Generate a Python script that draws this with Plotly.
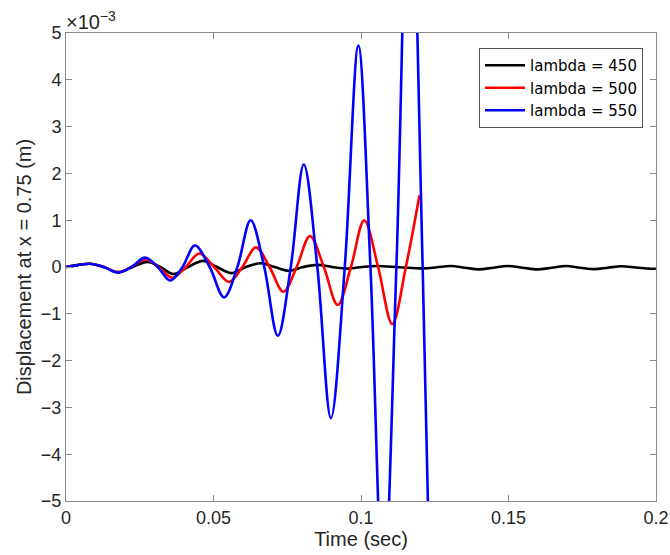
import plotly.graph_objects as go

SCALE = 1e-3  # displacement values below are in units of 1e-3 m

# lambda = 450 (black)
t_450 = [0, 0.004, 0.0081, 0.0128, 0.0177, 0.0226, 0.0276, 0.0320, 0.0364, 0.0414,
         0.0465, 0.0512, 0.0560, 0.0610, 0.0660, 0.0707, 0.0755, 0.0804, 0.0853, 0.0902,
         0.0952, 0.1003, 0.1055, 0.1130, 0.1213, 0.1258, 0.1304, 0.1352, 0.1400, 0.1448,
         0.1497, 0.1548, 0.1599, 0.1647, 0.1695, 0.1743, 0.1792, 0.1837, 0.1882, 0.1932,
         0.1983, 0.2000]
d_450 = [0, 0.04, 0.07, 0, -0.11, 0, 0.11, 0, -0.15, 0,
         0.13, 0, -0.13, 0, 0.08, 0, -0.08, 0, 0.045, 0,
         -0.035, 0, 0.02, -0.005, -0.03, -0.005, 0.02, -0.015, -0.05, -0.015,
         0.02, -0.015, -0.05, -0.015, 0.02, -0.015, -0.045, -0.015, 0.015, -0.01,
         -0.035, -0.03]

# lambda = 500 (red)
t_500 = [0, 0.004, 0.0081, 0.0128, 0.0177, 0.0222, 0.0268, 0.0314, 0.0360, 0.0406,
         0.0452, 0.0502, 0.0553, 0.0598, 0.0644, 0.0690, 0.0737, 0.0782, 0.0827, 0.0874,
         0.0921, 0.0966, 0.1011, 0.1058, 0.1106, 0.1152, 0.1198]
d_500 = [0, 0.04, 0.07, 0, -0.11, 0, 0.16, 0, -0.23, 0,
         0.29, 0, -0.32, 0, 0.42, 0, -0.53, 0, 0.66, 0,
         -0.81, 0, 1.0, 0, -1.22, 0, 1.53]

# lambda = 550 (blue)
t_550 = [0, 0.004, 0.0081, 0.0128, 0.0177, 0.0222, 0.0268, 0.0311, 0.0353, 0.0395,
         0.0437, 0.0487, 0.0536, 0.0581, 0.0626, 0.0672, 0.0718, 0.0762, 0.0806, 0.0852,
         0.0898, 0.0945, 0.0991, 0.1032, 0.1076, 0.1120, 0.1165, 0.1209, 0.1255]
d_550 = [0, 0.04, 0.07, 0, -0.12, 0, 0.2, 0, -0.29, 0,
         0.46, 0, -0.65, 0, 1.0, 0, -1.47, 0, 2.19, 0,
         -3.23, 0, 4.73, 0, -7.0, 0, 9.5, 0, -13.0]

series = [
    ("lambda = 450", t_450, d_450, "#000000"),
    ("lambda = 500", t_500, d_500, "#ff0000"),
    ("lambda = 550", t_550, d_550, "#0000ff"),
]

x_ticks = [0, 0.05, 0.1, 0.15, 0.2]
x_ticktext = ["0", "0.05", "0.1", "0.15", "0.2"]
y_ticks = [-5, -4, -3, -2, -1, 0, 1, 2, 3, 4, 5]
y_ticktext = [("\u2212" + str(-v)) if v < 0 else str(v) for v in y_ticks]

FONT = "Liberation Sans, Arial, sans-serif"
LFONT = "DejaVu Sans, sans-serif"
TXT = "#262626"
AX = "#8a8a8a"

fig = go.Figure()
for name, t, d, col in series:
    fig.add_trace(go.Scatter(
        x=t, y=[v * SCALE for v in d], mode="lines", name=name,
        line=dict(color=col, width=2.6, shape="spline", smoothing=1.0),
    ))

axis_common = dict(
    showgrid=False, zeroline=False, showline=True, linecolor=AX, linewidth=1,
    mirror="ticks", ticks="inside", ticklen=6, tickcolor=AX, tickwidth=1,
    tickfont=dict(family=FONT, size=18, color=TXT),
)

fig.update_layout(
    width=670, height=555,
    margin=dict(l=66, r=14, t=33, b=54, autoexpand=False),
    paper_bgcolor="white", plot_bgcolor="white",
    xaxis=dict(range=[0, 0.2], tickvals=x_ticks, ticktext=x_ticktext,
               title=dict(text="Time (sec)", font=dict(family=FONT, size=20, color=TXT), standoff=4),
               **axis_common),
    yaxis=dict(range=[-5 * SCALE, 5 * SCALE], tickvals=[v * SCALE for v in y_ticks], ticktext=y_ticktext,
               title=dict(text="Displacement at x = 0.75 (m)", font=dict(family=FONT, size=20, color=TXT), standoff=3),
               **axis_common),
    legend=dict(x=0.978, y=0.968, xanchor="right", yanchor="top",
                bgcolor="white", bordercolor="#555555", borderwidth=1,
                font=dict(family=LFONT, size=15, color="#000000"),
                tracegroupgap=0, itemwidth=40),
    showlegend=True,
    annotations=[dict(text="\u00d710<sup>\u22123</sup>", xref="paper", yref="paper",
                      x=0, y=1, xanchor="left", yanchor="bottom", showarrow=False,
                      font=dict(family=FONT, size=20, color=TXT), xshift=-2, yshift=-2)],
)

fig.write_html("out.html")
